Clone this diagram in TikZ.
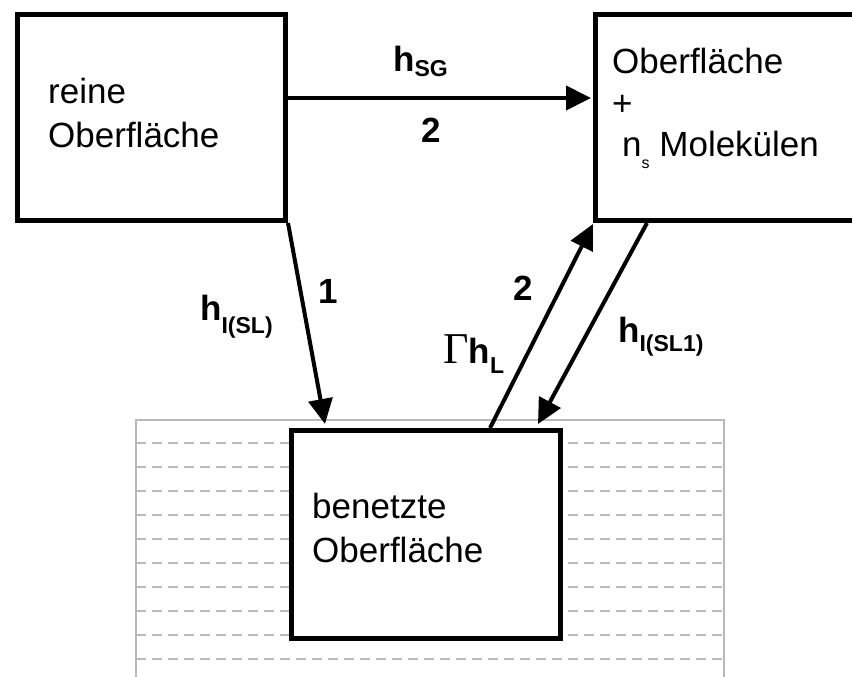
\documentclass[tikz,border=0pt]{standalone}
\usepackage{fontspec}
\setmainfont{Liberation Sans}
\newfontfamily\serifG{Liberation Serif}
\usetikzlibrary{arrows.meta,calc}
\newcommand{\lsub}[2]{\raisebox{-#1pt}{\fontsize{23}{23}\selectfont\bfseries #2}}
\begin{document}
\begin{tikzpicture}[x=1pt,y=-1pt,
  box/.style={draw, line width=5pt, fill=white, inner sep=0pt},
  txt/.style={font=\fontsize{35}{44}\selectfont, inner sep=0pt, align=left},
  arr/.style={line width=4pt, -{Triangle[length=25pt,width=24pt]}},
  lbl/.style={font=\fontsize{35}{42}\selectfont\bfseries, inner sep=0pt},
  water/.style={draw=gray!55, line width=1.6pt},
  wline/.style={draw=gray!55, line width=1.6pt, dash pattern=on 10pt off 6pt}]
\clip (0,0) rectangle (852,677);
% liquid
\draw[water] (136,700) -- (136,420) -- (724,420) -- (724,700);
\foreach \y in {443,467,...,659} \draw[wline] (136,\y) -- (724,\y);
% boxes
\node[box, minimum width=268pt, minimum height=206pt, anchor=north west] (A) at (15,12) {};
\node[box, minimum width=300pt, minimum height=206pt, anchor=north west] (B) at (593,12) {};
\node[box, minimum width=269pt, minimum height=208pt, anchor=north west] (C) at (289,428) {};
% texts (base anchor = baseline of last line)
\node[txt, anchor=base west] (tA) at (48,147) {reine\\Oberfläche};
\node[txt, font=\fontsize{35}{42}\selectfont, anchor=base west] (tB) at (612,157) {Oberfläche\\+\\\hspace*{10pt}n\raisebox{-12pt}{\fontsize{16}{16}\selectfont s} Molekülen};
\node[txt, anchor=base west] (tC) at (312,562) {benetzte\\Oberfläche};
% connectors
\draw[arr] ($(A.north east)+(0,86)$) -- ($(B.north west)+(-2,86)$);
\draw[arr] (A.south east) -- ($(C.north west)+(36,-4)$);
\draw[arr] ($(C.north west)+(201,0)$) -- ($(B.south west)+(0,1)$);
\draw[arr] ($(B.south west)+(54,0)$) -- ($(C.north west)+(249,-4)$);
% labels
\node[lbl, anchor=base west] (hSG) at (393,72) {h\lsub{5}{SG}};
\node[lbl, anchor=base] (n2a) at (431,142) {2};
\node[lbl, anchor=base] (n1) at (328,303) {1};
\node[lbl, anchor=base] (n2b) at (523,300) {2};
\node[lbl, anchor=base west] (hISL) at (200,320) {h\lsub{13}{I(SL)}};
\node[lbl, anchor=base west] (GhL) at (443,363) {{\serifG\mdseries\fontsize{44}{44}\selectfont Γ}h\lsub{10}{L}};
\node[lbl, anchor=base west] (hISL1) at (618,342) {h\lsub{9}{I(SL1)}};
\end{tikzpicture}
\end{document}
